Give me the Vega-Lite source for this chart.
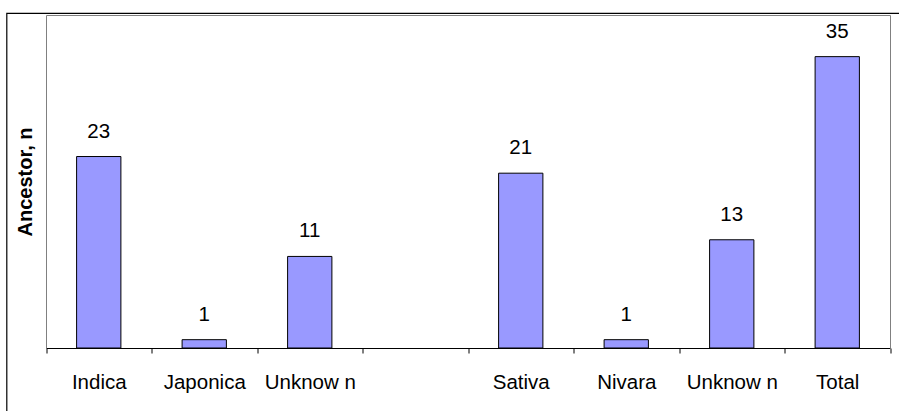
{
  "$schema": "https://vega.github.io/schema/vega-lite/v6.json",
  "autosize": "none",
  "width": 892.5,
  "height": 398,
  "padding": {"left": 6.5, "top": 13, "right": 0, "bottom": 0},
  "background": "white",
  "config": {
    "view": {"stroke": "#000000", "strokeWidth": 1.2, "strokeDash": [892.5, 1290.5, 398, 0]},
    "font": "Liberation Sans",
    "axis": {"grid": false}
  },
  "data": {
    "values": [
      {"group": "Indica", "n": 23},
      {"group": "Japonica", "n": 1},
      {"group": "Unknow n", "n": 11},
      {"group": "Sativa", "n": 21},
      {"group": "Nivara", "n": 1},
      {"group": "Unknow n ", "n": 13},
      {"group": "Total", "n": 35}
    ]
  },
  "layer": [
    {
      "mark": {"type": "bar", "width": {"band": 0.42}, "fill": "#9999ff", "stroke": "#000000", "strokeWidth": 1},
      "encoding": {
        "x": {
          "field": "group",
          "type": "nominal",
          "sort": null,
          "scale": {
            "domain": ["Indica", "Japonica", "Unknow n", " ", "Sativa", "Nivara", "Unknow n ", "Total"],
            "range": [39.5, 883.5],
            "paddingInner": 0,
            "paddingOuter": 0
          },
          "axis": {
            "orient": "bottom",
            "offset": -63,
            "title": null,
            "labelAngle": 0,
            "tickBand": "extent",
            "tickSize": 5,
            "tickColor": "#000000",
            "domainColor": "#000000",
            "labelColor": "#000000",
            "labelFontSize": 20.5,
            "labelPadding": 19
          }
        },
        "y": {
          "field": "n",
          "type": "quantitative",
          "scale": {"domain": [0, 40], "nice": false, "range": [335, 2]},
          "axis": {
            "orient": "left",
            "offset": -39.5,
            "title": "Ancestor, n",
            "titleFontSize": 20,
            "titleFontWeight": "bold",
            "titleColor": "#000000",
            "titlePadding": 11,
            "labels": false,
            "ticks": false,
            "domainColor": "#808080"
          }
        }
      }
    },
    {
      "mark": {"type": "text", "baseline": "alphabetic", "dy": -19, "fontSize": 20.5, "color": "#000000"},
      "encoding": {
        "x": {
          "field": "group",
          "type": "nominal",
          "sort": null,
          "axis": {
            "orient": "top",
            "offset": -2,
            "title": null,
            "labels": false,
            "ticks": false,
            "domainColor": "#808080"
          }
        },
        "y": {
          "field": "n",
          "type": "quantitative",
          "axis": {
            "orient": "right",
            "offset": -9,
            "title": null,
            "labels": false,
            "ticks": false,
            "domainColor": "#808080"
          }
        },
        "text": {"field": "n", "type": "quantitative"}
      }
    }
  ],
  "resolve": {"axis": {"x": "independent", "y": "independent"}}
}
